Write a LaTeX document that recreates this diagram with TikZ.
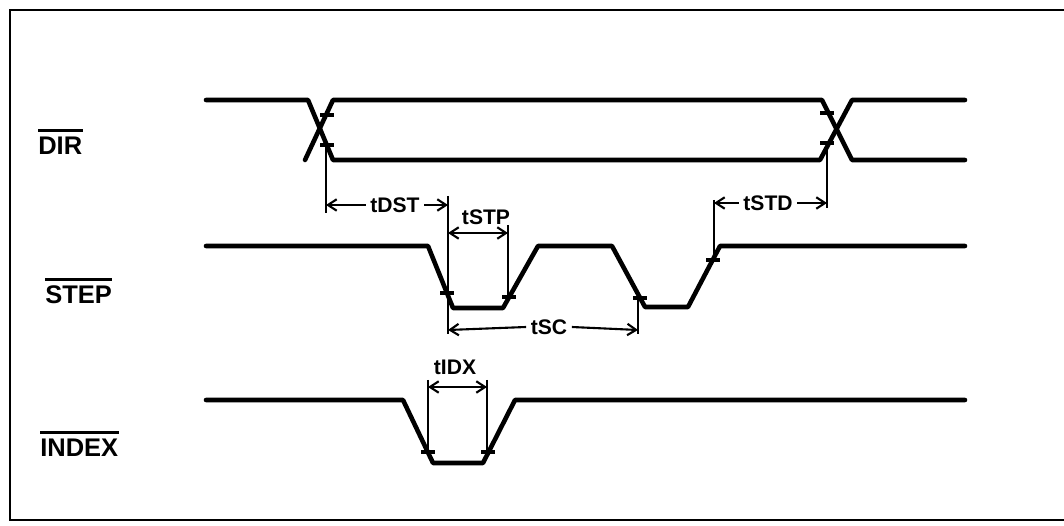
\documentclass[tikz,border=0pt]{standalone}
\usepackage{fontspec}
\setmainfont{Liberation Sans}
\usetikzlibrary{arrows.meta}

\begin{document}
\begin{tikzpicture}[
    x=0.02cm, y=-0.02cm,
    >={Straight Barb[length=5pt,width=6.5pt]},
    signal/.style={line width=2.6pt, line cap=round, line join=round},
    dim/.style={line width=1.2pt},
    tick/.style={line width=1.8pt},
    bar/.style={line width=1.5pt},
    sig/.style={font=\fontsize{14.5}{16}\selectfont\bfseries, inner sep=0pt, anchor=west},
    tlabel/.style={font=\fontsize{12}{14}\selectfont\bfseries, inner xsep=2.5pt, inner ysep=0pt}
]
\useasboundingbox (0,0) rectangle (1064,526);

% frame
\draw[line width=1.6pt] (1070,10) -- (10,10) -- (10,520) -- (1070,520);

% signal names
\node[sig] (dir) at (38,146) {DIR};
\node[sig] (step) at (45,295) {STEP};
\node[sig] (index) at (40,448) {INDEX};
\foreach \n in {dir,step,index}
    \draw[bar] ([yshift=3.5pt]\n.north west) -- ([yshift=3.5pt]\n.north east);

% waveforms
\draw[signal] (206,100) -- (308,100) -- (333,160) -- (820,160) -- (852,100) -- (965,100);
\draw[signal] (305,160) -- (333,100) -- (822,100) -- (852,160) -- (965,160);
\draw[signal] (206,246) -- (428,246) -- (453,308) -- (503,308) -- (538,246) -- (612,246)
    -- (645,307) -- (688,307) -- (720,246) -- (965,246);
\draw[signal] (206,400) -- (403,400) -- (433,463) -- (483,463) -- (515,400) -- (965,400);

% edge marks
\foreach \p in {(327,115),(327,145),(827,113),(827,143),(447,293),(509,297),
                (640,298),(713,260),(428,452),(488,452)}
    \draw[tick] \p ++(-7,0) -- ++(14,0);

% extension lines
\draw[dim] (326,145) -- (326,213);
\draw[dim] (448,196) -- (448,334);
\draw[dim] (508,225) -- (508,297);
\draw[dim] (638,298) -- (638,334);
\draw[dim] (714,200) -- (714,260);
\draw[dim] (827,143) -- (827,208);
\draw[dim] (428,380) -- (428,452);
\draw[dim] (487,380) -- (487,452);

% timing labels
\coordinate (dstA) at (326,205);
\coordinate (dstB) at (448,205);
\node[tlabel] (tDST) at (395,205) {tDST};
\draw[dim,->] (tDST.west) -- (dstA);
\draw[dim,->] (tDST.east) -- (dstB);

\coordinate (stpA) at (448,233);
\coordinate (stpB) at (508,233);
\node[tlabel] (tSTP) at (486,217) {tSTP};
\draw[dim,<->] (stpA) -- (stpB);

\coordinate (scA) at (448,330);
\coordinate (scB) at (638,330);
\node[tlabel] (tSC) at (549,327) {tSC};
\draw[dim,->] (tSC.west) -- (scA);
\draw[dim,->] (tSC.east) -- (scB);

\coordinate (stdA) at (714,203);
\coordinate (stdB) at (827,203);
\node[tlabel] (tSTD) at (768,203) {tSTD};
\draw[dim,->] (tSTD.west) -- (stdA);
\draw[dim,->] (tSTD.east) -- (stdB);

\coordinate (idxA) at (428,387);
\coordinate (idxB) at (487,387);
\node[tlabel] (tIDX) at (455,367) {tIDX};
\draw[dim,<->] (idxA) -- (idxB);
\end{tikzpicture}
\end{document}
